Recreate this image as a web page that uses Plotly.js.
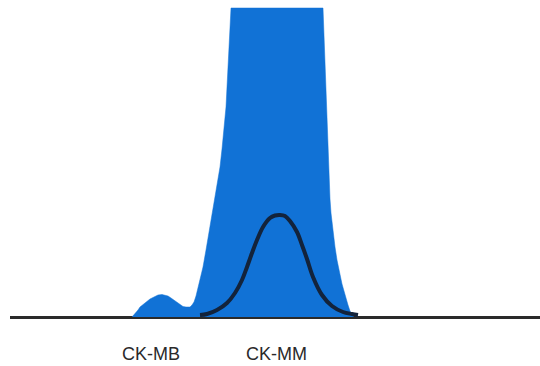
<!DOCTYPE html>
<html>
<head>
<meta charset="utf-8">
<script src="https://cdn.plot.ly/plotly-3.0.1.min.js"></script>
<style>html,body{margin:0;padding:0;background:#fff}#chart{width:540px;height:366px}</style>
</head>
<body>
<div id="chart"></div>
<script>
// Migration position (x) and total band intensity (height above baseline)
const bandX = [132,134,136,138,140,145,150,154,158,162,165,168,171,175,178,181,183,186,190,192,194,196,198,200,203,206,209,212,215,218,220,222,224,226,227,228,229,230,231,
               323,324,325,326,327,328,329,330,331,333,335,337,340,342,344,346,348,350,352,354];
const bandY = [0,2,4,7,10,14,18,20,22,22.5,22,21,19,16,14,11.5,10.5,10,10,12,15,21,30,38,50,67,85,101,118,136,150,168,188,210,230,250,270,290,309,
               309,280,250,220,190,165,140,118,104,85,70,57,42,33,26,18,12,6,2,0];

// CK-MM isoenzyme band (dark outline)
const mmX = [200,207,217,227,235,242,247,252,257,263,270,275,280,285,290,297,302,307,313,322,332,343,352,358];
const mmY = [2,3,7,14,24,37,50,64,77,90,99,101.5,102,101,96,85,72,58,40,22,11,5,3,2];

const labels = ["CK-MB", "CK-MM"];
const labelX = [151, 276];

const traces = [
  {
    x: bandX, y: bandY, type: 'scatter', mode: 'lines',
    fill: 'toself', fillcolor: '#1172d6',
    line: {color: '#1172d6', width: 0.5, shape: 'linear'},
    hoverinfo: 'skip'
  },
  {
    x: mmX, y: mmY, type: 'scatter', mode: 'lines',
    line: {color: '#13233b', width: 4, shape: 'spline', smoothing: 1},
    hoverinfo: 'skip'
  }
];

const layout = {
  width: 540, height: 366,
  margin: {l: 0, r: 0, t: 0, b: 0, pad: 0},
  paper_bgcolor: '#ffffff', plot_bgcolor: '#ffffff',
  showlegend: false,
  xaxis: {
    domain: [10/540, 1], range: [10, 540],
    showgrid: false, zeroline: false, showline: false,
    showticklabels: false, ticks: '', fixedrange: true
  },
  yaxis: {
    range: [-49, 317],
    showgrid: false, zeroline: true, zerolinecolor: '#2a2a2a', zerolinewidth: 3,
    showline: false, showticklabels: false, ticks: '', fixedrange: true,
    layer: 'above traces'
  },
  annotations: labels.map((t, i) => ({
    text: t, x: labelX[i], y: -37, xref: 'x', yref: 'y',
    xanchor: 'center', yanchor: 'middle', showarrow: false,
    font: {family: 'Liberation Sans, Arial, sans-serif', size: 18, color: '#2a2a2a'}
  }))
};

Plotly.newPlot('chart', traces, layout, {staticPlot: true, displayModeBar: false});
</script>
</body>
</html>
